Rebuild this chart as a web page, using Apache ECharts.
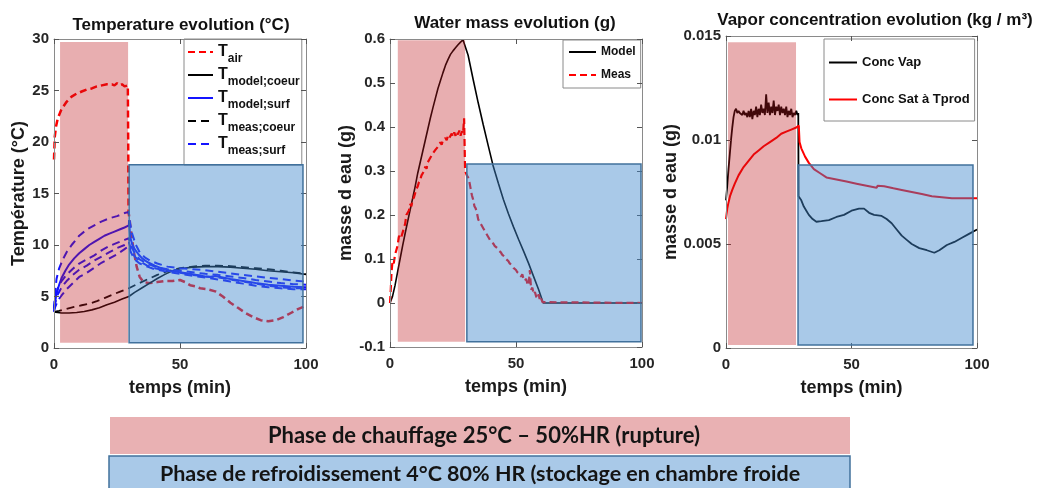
<!DOCTYPE html>
<html>
<head>
<meta charset="utf-8">
<script src="https://cdn.jsdelivr.net/npm/echarts@6/dist/echarts.min.js"></script>
<style>html,body{margin:0;padding:0;background:#fff}#c{width:1043px;height:488px}</style>
</head>
<body>
<div id="c"></div>
<script>
// ---------------- DATA ----------------
// Panel 1: temperature (°C) vs time (min)
const tAir = [[0,18.3],[0.3,20.5],[0.8,21.5],[1.5,22.3],[3,23.2],[5,23.9],[7,24.4],[9,24.7],[11,24.9],[13,25.1],[15,25.2],[17,25.4],[19,25.5],[21,25.6],[23,25.6],[24,25.5],[25,25.7],[26,25.5],[27,25.6],[28,25.4],[29.3,25.5],[29.5,18],[29.6,13.2],[30.5,11.5],[31.5,9.6],[32.8,7.9],[34,6.9],[35.5,6.4],[38,6.3],[41,6.4],[44,6.5],[47,6.5],[50,6.6],[52,6.4],[54,6.1],[56,6.0],[58,5.8],[61,5.7],[64,5.5],[67,5.0],[70,4.4],[73,3.9],[76,3.4],[79,3.0],[82,2.7],[85,2.6],[88,2.7],[91,3.0],[94,3.4],[97,3.8],[100,4.1]];
const tModelCoeur = [[0,3.5],[3,3.4],[6,3.4],[9,3.45],[12,3.55],[15,3.7],[18,3.9],[21,4.2],[24,4.45],[27,4.75],[29.7,5.0],[32,5.4],[35,5.85],[38,6.3],[41,6.75],[44,7.15],[47,7.5],[50,7.7],[55,7.85],[60,7.9],[65,7.9],[70,7.85],[75,7.75],[80,7.65],[85,7.5],[90,7.4],[95,7.3],[100,7.15]];
const tMeasCoeur = [[0,3.5],[2,3.6],[5,3.8],[8,4.0],[11,4.15],[14,4.3],[17,4.55],[20,4.85],[23,5.15],[26,5.45],[29.7,5.8],[33,6.2],[37,6.65],[41,7.1],[45,7.45],[50,7.75],[55,7.9],[60,8.0],[65,8.0],[70,7.95],[75,7.85],[80,7.75],[85,7.65],[90,7.5],[95,7.35],[100,7.2]];
const tModelSurf = [[0,3.5],[0.5,4.5],[1,5.3],[2,6.1],[3,6.8],[4.5,7.5],[6,8.1],[8,8.7],[10,9.2],[12,9.6],[14,10.0],[16,10.3],[18,10.6],[20,10.9],[22,11.1],[24,11.3],[26,11.5],[28,11.7],[29.7,11.9],[29.8,12.4],[30.2,10.8],[31,10.1],[32,9.6],[33.5,9.1],[35,8.7],[37,8.35],[40,8.0],[43,7.7],[46,7.5],[50,7.35],[55,7.15],[60,6.95],[62,6.9],[64,7.0],[66,6.9],[70,6.7],[75,6.5],[80,6.3],[85,6.15],[90,6.05],[95,5.95],[100,5.9]];
const tMeasSurfA = [[0,3.8],[0.5,5.5],[1,6.7],[2,7.7],[3.5,8.6],[5,9.3],[7,10.0],[10,10.9],[13,11.5],[16,11.9],[19,12.3],[22,12.6],[25,12.8],[28,13.1],[29.7,13.2],[30,12.3],[31,11.1],[32.5,10.0],[34,9.3],[36,8.8],[38,8.5],[41,8.2],[45,7.9],[50,7.75],[55,7.65],[60,7.55],[65,7.4],[70,7.25],[75,7.1],[80,6.95],[85,6.8],[90,6.7],[95,6.55],[100,6.45]];
const tMeasSurfB = [[0,3.9],[0.5,4.8],[1.5,5.8],[3,6.5],[5,7.1],[7.5,7.7],[10,8.2],[13,8.6],[16,9.0],[19,9.5],[22,9.9],[25,10.2],[28,10.5],[29.7,10.65],[30.5,10.0],[32,9.2],[34,8.6],[37,8.2],[40,7.9],[45,7.65],[50,7.5],[55,7.35],[60,7.2],[65,7.1],[70,6.95],[75,6.8],[80,6.6],[85,6.45],[90,6.3],[95,6.2],[100,6.15]];
const tMeasSurfC = [[0,3.9],[0.5,4.4],[1.5,5.2],[3,5.9],[5,6.5],[7.5,7.1],[10,7.6],[13,8.0],[16,8.5],[19,8.9],[22,9.3],[25,9.7],[28,10.0],[29.7,10.3],[30.5,9.6],[32,8.9],[34,8.4],[37,8.0],[40,7.75],[45,7.5],[50,7.3],[55,7.1],[60,6.95],[65,6.85],[70,6.65],[75,6.45],[80,6.25],[85,6.05],[90,5.9],[95,5.8],[100,5.8]];
const tMeasSurfD = [[0,3.6],[0.5,4.0],[1.5,4.6],[3,5.1],[5,5.7],[7.5,6.3],[10,6.9],[13,7.3],[16,7.8],[19,8.3],[22,8.7],[25,9.1],[28,9.6],[29.7,9.9],[30.5,9.3],[32,8.6],[34,8.2],[37,7.9],[40,7.65],[45,7.4],[50,7.2],[55,7.0],[60,6.85],[65,6.65],[70,6.45],[75,6.25],[80,6.05],[85,5.9],[90,5.8],[95,5.7],[100,5.7]];

// Panel 2: water mass (g)
const massModel = [[0,0],[1,0.015],[2,0.04],[3,0.07],[4,0.1],[5,0.13],[6,0.158],[7,0.185],[8,0.212],[9,0.238],[10,0.265],[11,0.295],[12,0.32],[13,0.345],[14,0.37],[15,0.395],[16,0.42],[17,0.443],[18,0.465],[19,0.487],[20,0.505],[21,0.523],[22,0.54],[23,0.553],[24,0.565],[25,0.573],[26,0.58],[27,0.587],[28,0.593],[29,0.598],[29.6,0.6],[31,0.563],[33,0.508],[35,0.455],[37,0.405],[39,0.357],[41,0.31],[43,0.272],[45,0.235],[47,0.203],[49,0.173],[51,0.145],[53,0.118],[55,0.09],[57,0.06],[59,0.03],[60.8,0],[100,0]];
const massMeas = [[0,0],[0.3,0.03],[0.6,0.07],[1,0.095],[1.5,0.09],[2,0.11],[2.5,0.12],[3,0.13],[3.5,0.15],[4,0.155],[4.5,0.15],[5,0.16],[5.5,0.17],[6,0.18],[6.5,0.2],[7,0.205],[7.5,0.21],[8,0.225],[8.5,0.22],[9,0.235],[9.5,0.24],[10,0.25],[10.5,0.26],[11,0.265],[11.5,0.275],[12,0.28],[12.5,0.29],[13,0.295],[13.5,0.3],[14,0.31],[14.5,0.305],[15,0.32],[15.5,0.325],[16,0.33],[16.5,0.335],[17,0.34],[17.5,0.338],[18,0.348],[18.5,0.35],[19,0.355],[19.5,0.36],[20,0.365],[20.5,0.36],[21,0.37],[21.5,0.368],[22,0.375],[22.5,0.37],[23,0.38],[23.5,0.375],[24,0.38],[24.5,0.385],[25,0.378],[25.5,0.388],[26,0.38],[26.5,0.39],[27,0.383],[27.5,0.392],[28,0.38],[28.5,0.39],[29,0.385],[29.4,0.42],[29.6,0.36],[29.8,0.3],[30.5,0.29],[31,0.285],[31.5,0.275],[32,0.26],[32.5,0.245],[33,0.235],[33.5,0.22],[34,0.215],[34.5,0.205],[35,0.19],[35.5,0.185],[36,0.18],[36.5,0.175],[37,0.17],[37.5,0.165],[38,0.16],[38.5,0.158],[39,0.15],[39.5,0.148],[40,0.14],[40.5,0.142],[41,0.135],[41.5,0.13],[42,0.132],[42.5,0.125],[43,0.12],[43.5,0.118],[44,0.115],[44.5,0.11],[45,0.112],[45.5,0.105],[46,0.1],[46.5,0.102],[47,0.095],[47.5,0.09],[48,0.092],[48.5,0.085],[49,0.08],[49.5,0.082],[50,0.075],[50.5,0.07],[51,0.072],[51.5,0.065],[52,0.06],[52.5,0.065],[53,0.055],[53.5,0.05],[54,0.055],[54.5,0.045],[55,0.04],[55.5,0.075],[56,0.03],[56.5,0.035],[57,0.02],[57.5,0.025],[58,0.015],[58.5,0.01],[59,0.02],[59.5,0.005],[60,0.01],[60.5,0.002],[61,0],[100,0]];

// Panel 3: vapour concentration (kg/m3)
const concVap = [[0,0.0071],[0.5,0.0078],[1,0.0086],[1.5,0.0093],[2,0.01],[2.5,0.0106],[3,0.0111],[3.5,0.0114],[4,0.0115],[4.5,0.0113],[5,0.0114],[5.5,0.0113],[6,0.0113],[6.5,0.0112],[7,0.0114],[7.5,0.0112],[8,0.0113],[8.5,0.0111],[9,0.0114],[9.5,0.0111],[10,0.0115],[10.5,0.011],[11,0.0114],[11.5,0.0112],[12,0.0116],[12.5,0.0111],[13,0.0115],[13.5,0.0112],[14,0.0117],[14.5,0.0113],[15,0.0115],[15.5,0.0112],[16,0.0122],[16.5,0.0113],[17,0.0118],[17.5,0.0112],[18,0.0116],[18.5,0.0113],[19,0.0119],[19.5,0.0112],[20,0.0116],[20.5,0.0114],[21,0.0117],[21.5,0.0112],[22,0.0116],[22.5,0.0113],[23,0.0115],[23.5,0.0112],[24,0.0116],[24.5,0.0111],[25,0.0114],[25.5,0.0112],[26,0.0115],[26.5,0.0111],[27,0.0113],[27.5,0.0112],[28,0.0114],[28.5,0.0112],[28.8,0.0113],[28.9,0.0073],[30,0.0071],[31,0.0068],[32,0.0066],[33,0.0064],[34.5,0.0062],[36,0.00607],[38,0.0061],[41,0.00615],[44,0.0063],[47,0.0064],[50,0.0066],[53,0.0067],[55,0.0067],[57,0.0065],[59,0.0064],[62,0.00635],[64,0.0062],[66,0.006],[68,0.0057],[70,0.0054],[72,0.0052],[74,0.005],[77,0.0048],[80,0.0047],[83,0.00458],[85,0.0047],[88,0.00495],[91,0.0051],[94,0.0053],[97,0.0055],[100,0.0057]];
const concSat = [[0,0.0062],[0.5,0.0067],[1,0.007],[1.6,0.0073],[2.5,0.0076],[3.5,0.0079],[5,0.0083],[7,0.0087],[9,0.009],[11,0.0093],[13,0.0095],[15,0.0097],[17.5,0.0099],[20,0.0101],[22,0.0103],[24,0.0104],[26,0.0105],[28,0.0106],[29,0.0107],[29.3,0.0099],[30,0.0096],[31.5,0.0092],[33,0.0089],[35,0.0086],[37.5,0.0084],[40,0.0082],[44,0.0081],[48,0.008],[52,0.0079],[56,0.0078],[60,0.0077],[60.4,0.0078],[63,0.00778],[66.7,0.00768],[70,0.0076],[74,0.0075],[78,0.0074],[82,0.0073],[86,0.00725],[90,0.0072],[95,0.0072],[100,0.0072]];

// Phase regions [tStart, tEnd, yLow, yHigh] per panel
const heatZone = [[2.4, 29.4, 0.5, 29.7], [3.1, 29.8, -0.088, 0.597], [0.8, 27.9, 0.00015, 0.0147]];
const coolZone = [[29.8, 98.8, 0.5, 17.8], [30.5, 99.6, -0.088, 0.316], [28.7, 98.4, 0.00015, 0.0088]];

// Axis ranges / ticks
const yRanges = [[0, 30, 5], [-0.1, 0.6, 0.1], [0, 0.015, 0.005]];
const xRange = [0, 100, 50];
const titles = ['Temperature evolution (°C)', 'Water mass evolution (g)', 'Vapor concentration evolution (kg / m³)'];
const yNames = ['Température (°C)', 'masse d eau (g)', 'masse d eau (g)'];
const xName = 'temps (min)';
const bannerHeat = 'Phase de chauffage 25°C – 50%HR (rupture)';
const bannerCool = 'Phase de refroidissement 4°C 80% HR (stockage en chambre froide';

// ---------------- CHART ----------------
const F = 'Liberation Sans, Arial, sans-serif';
const axisGrey = '#8a8a8a';
const grids = [
  {left: 54, top: 39, width: 252, height: 309},
  {left: 390, top: 39, width: 252, height: 308},
  {left: 726, top: 36, width: 251, height: 312}
];
const yNameGaps = [26, 35, 46];
const yLabelFmt = [v => String(v), v => String(parseFloat(v.toFixed(2))), v => String(parseFloat(v.toFixed(4)))];

const xAxes = [], yAxes = [];
grids.forEach((g, i) => {
  const common = {
    gridIndex: i, type: 'value', z: 5,
    axisLine: {show: true, onZero: false, lineStyle: {color: axisGrey, width: 1}},
    axisTick: {show: true, inside: true, length: 5, lineStyle: {color: '#555'}},
    splitLine: {show: false}
  };
  xAxes.push(Object.assign({}, common, {
    min: xRange[0], max: xRange[1], interval: xRange[2], position: 'bottom',
    name: xName, nameLocation: 'middle', nameGap: 31,
    nameTextStyle: {fontFamily: F, fontSize: 18, fontWeight: 'bold', color: '#1a1a1a'},
    axisLabel: {fontFamily: F, fontSize: 15, fontWeight: 'bold', color: '#262626', margin: 9}
  }));
  xAxes.push(Object.assign({}, common, {
    min: xRange[0], max: xRange[1], interval: xRange[2], position: 'top',
    axisLabel: {show: false}
  }));
  yAxes.push(Object.assign({}, common, {
    min: yRanges[i][0], max: yRanges[i][1], interval: yRanges[i][2], position: 'left',
    name: yNames[i], nameLocation: 'middle', nameGap: yNameGaps[i], nameRotate: 90,
    nameTextStyle: {fontFamily: F, fontSize: 18, fontWeight: 'bold', color: '#1a1a1a'},
    axisLabel: {fontFamily: F, fontSize: 15, fontWeight: 'bold', color: '#262626', margin: 5, formatter: yLabelFmt[i]}
  }));
  yAxes.push(Object.assign({}, common, {
    min: yRanges[i][0], max: yRanges[i][1], interval: yRanges[i][2], position: 'right',
    axisLabel: {show: false}
  }));
});

function line(name, data, gi, color, width, type) {
  return {
    name: name, type: 'line', data: data, xAxisIndex: gi * 2, yAxisIndex: gi * 2,
    symbol: 'none', showSymbol: false, smooth: false, z: 2, animation: false,
    lineStyle: {color: color, width: width, type: type || 'solid'},
    itemStyle: {color: color}
  };
}
const BLUE = '#1414ff', RED = '#ff0000', BLACK = '#000000';
const series = [
  line('T_air', tAir, 0, RED, 2.5, [7, 4]),
  line('T_model;coeur', tModelCoeur, 0, BLACK, 1.6),
  line('T_model;surf', tModelSurf, 0, BLUE, 2),
  line('T_meas;coeur', tMeasCoeur, 0, BLACK, 1.8, [8, 5]),
  line('T_meas;surf', tMeasSurfA, 0, BLUE, 2, [8, 5]),
  line('T_meas;surf', tMeasSurfB, 0, BLUE, 2, [8, 5]),
  line('T_meas;surf', tMeasSurfC, 0, BLUE, 2, [8, 5]),
  line('T_meas;surf', tMeasSurfD, 0, BLUE, 2, [8, 5]),
  line('Model', massModel, 1, BLACK, 1.6),
  line('Meas', massMeas, 1, RED, 2.2, [7, 4]),
  line('Conc Vap', concVap, 2, BLACK, 1.8),
  line('Conc Sat à Tprod', concSat, 2, RED, 2)
];
// overlay phase rectangles (semi-transparent, above curves)
for (let i = 0; i < 3; i++) {
  const h = heatZone[i], c = coolZone[i];
  series.push({
    type: 'line', data: [], xAxisIndex: i * 2, yAxisIndex: i * 2, z: 10, silent: true, animation: false,
    markArea: {
      silent: true, animation: false, z: 10,
      data: [
        [{xAxis: h[0], yAxis: h[3], itemStyle: {color: 'rgba(189,24,29,0.35)', borderWidth: 0}}, {xAxis: h[1], yAxis: h[2]}],
        [{xAxis: c[0], yAxis: c[3], itemStyle: {color: 'rgba(64,135,204,0.45)', borderColor: '#41719c', borderWidth: 1.5}}, {xAxis: c[1], yAxis: c[2]}]
      ]
    }
  });
}

const legendBase = {
  orient: 'vertical', backgroundColor: '#fff', borderColor: '#8a8a8a', borderWidth: 1, borderRadius: 0,
  selectedMode: false, align: 'left', itemStyle: {opacity: 0}
};
const legends = [
  Object.assign({}, legendBase, {
    data: ['T_air', 'T_model;coeur', 'T_model;surf', 'T_meas;coeur', 'T_meas;surf'],
    left: 184, top: 39, padding: [5, 2, 8, 3], itemWidth: 25, itemHeight: 14, itemGap: 2,
    formatter: n => { const p = n.split('_'); return '{t|' + p[0] + '}{s|' + p[1] + '}'; },
    textStyle: {
      rich: {
        t: {fontFamily: F, fontSize: 16, fontWeight: 'bold', color: '#111', lineHeight: 26},
        s: {fontFamily: F, fontSize: 12, fontWeight: 'bold', color: '#111', lineHeight: 13, verticalAlign: 'bottom'}
      }
    }
  }),
  Object.assign({}, legendBase, {
    data: ['Model', 'Meas'], left: 563, top: 40, padding: [6, 5, 7, 5],
    itemWidth: 27, itemHeight: 14, itemGap: 11,
    textStyle: {fontFamily: F, fontSize: 12, fontWeight: 'bold', color: '#111', padding: [10, 0, 0, 0]}
  }),
  Object.assign({}, legendBase, {
    data: ['Conc Vap', 'Conc Sat à Tprod'], left: 824, top: 39, padding: [17, 5, 15, 4],
    itemWidth: 28, itemHeight: 14, itemGap: 24,
    textStyle: {fontFamily: F, fontSize: 13, fontWeight: 'bold', color: '#111'}
  })
];

const titleCenters = [181, 515, 875];
const titleTops = [17, 15, 12];
const titleComps = titles.map((t, i) => ({
  text: t, left: titleCenters[i], top: titleTops[i], textAlign: 'center', padding: 0,
  textStyle: {fontFamily: F, fontSize: 17, fontWeight: 'bold', color: '#111'}
}));

const chart = echarts.init(document.getElementById('c'), null, {renderer: 'canvas'});
chart.setOption({
  animation: false,
  backgroundColor: '#fff',
  title: titleComps,
  legend: legends,
  grid: grids,
  xAxis: xAxes,
  yAxis: yAxes,
  series: series,
  graphic: [
    {type: 'rect', shape: {x: 110, y: 417, width: 740, height: 37}, style: {fill: '#e9b1b3'}, z: 1},
    {type: 'text', x: 484, y: 436, z: 2, style: {text: bannerHeat, fill: '#141414', font: 'bold 22px Lato, sans-serif', textAlign: 'center', textVerticalAlign: 'middle'}},
    {type: 'rect', shape: {x: 109, y: 456, width: 741, height: 40}, style: {fill: '#a9c9e8', stroke: '#41719c', lineWidth: 1.5}, z: 1},
    {type: 'text', x: 480, y: 474, z: 2, style: {text: bannerCool, fill: '#141414', font: 'bold 21.5px Lato, sans-serif', textAlign: 'center', textVerticalAlign: 'middle'}}
  ]
});
</script>
</body>
</html>
